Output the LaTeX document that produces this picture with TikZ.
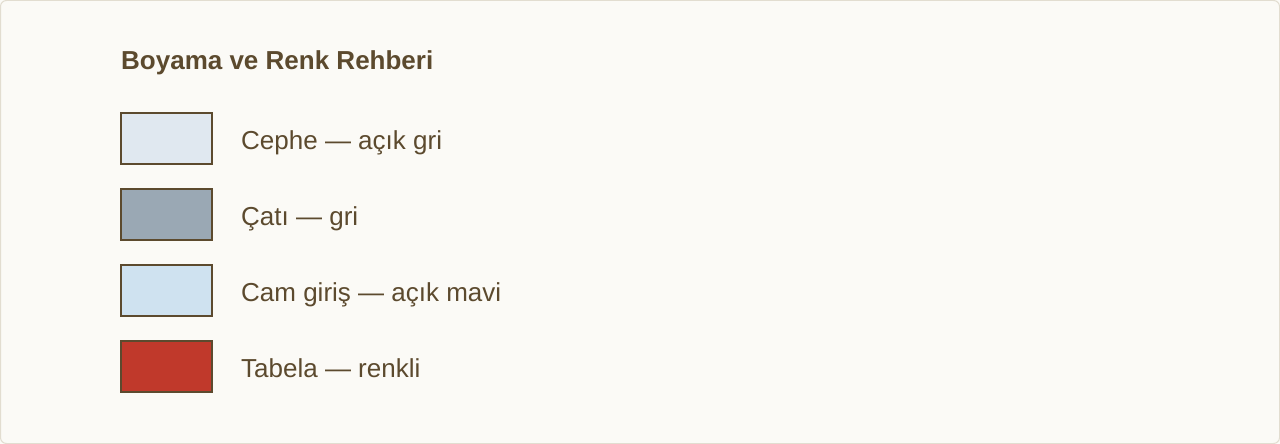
\documentclass[tikz,border=0pt]{standalone}
\usepackage{fontspec}
\setmainfont{Liberation Sans}
\definecolor{bg}{HTML}{FBFAF6}
\definecolor{frame}{HTML}{E2DDD0}
\definecolor{ink}{HTML}{5C4A2E}
\definecolor{cephe}{HTML}{E0E8F0}
\definecolor{cati}{HTML}{9AA8B4}
\definecolor{cam}{HTML}{CFE2F0}
\definecolor{tabela}{HTML}{C0392B}
\begin{document}
\begin{tikzpicture}[x=1pt,y=-1pt,
  swatch/.style={draw=ink,line width=2pt},
  lbl/.style={anchor=base west,inner sep=0pt,text=ink,font=\fontsize{26}{30}\selectfont},
  ttl/.style={anchor=base west,inner sep=0pt,text=ink,font=\bfseries\fontsize{26}{30}\selectfont}]
\useasboundingbox (0,0) rectangle (1280,444);
\fill[bg] (0,0) rectangle (1280,444);
\draw[frame,line width=1pt,rounded corners=6pt] (0.5,0.5) rectangle (1279.5,443.5);
\node[ttl] (title) at (121,69.5) {Boyama ve Renk Rehberi};
\draw[swatch,fill=cephe] (121,113) rectangle (212,164);
\node[lbl] (l1) at (241,149) {Cephe — açık gri};
\draw[swatch,fill=cati] (121,189) rectangle (212,240);
\node[lbl] (l2) at (241,225) {Çatı — gri};
\draw[swatch,fill=cam] (121,265) rectangle (212,316);
\node[lbl] (l3) at (241,301) {Cam giriş — açık mavi};
\draw[swatch,fill=tabela] (121,341) rectangle (212,392);
\node[lbl] (l4) at (241,377) {Tabela — renkli};
\end{tikzpicture}
\end{document}
